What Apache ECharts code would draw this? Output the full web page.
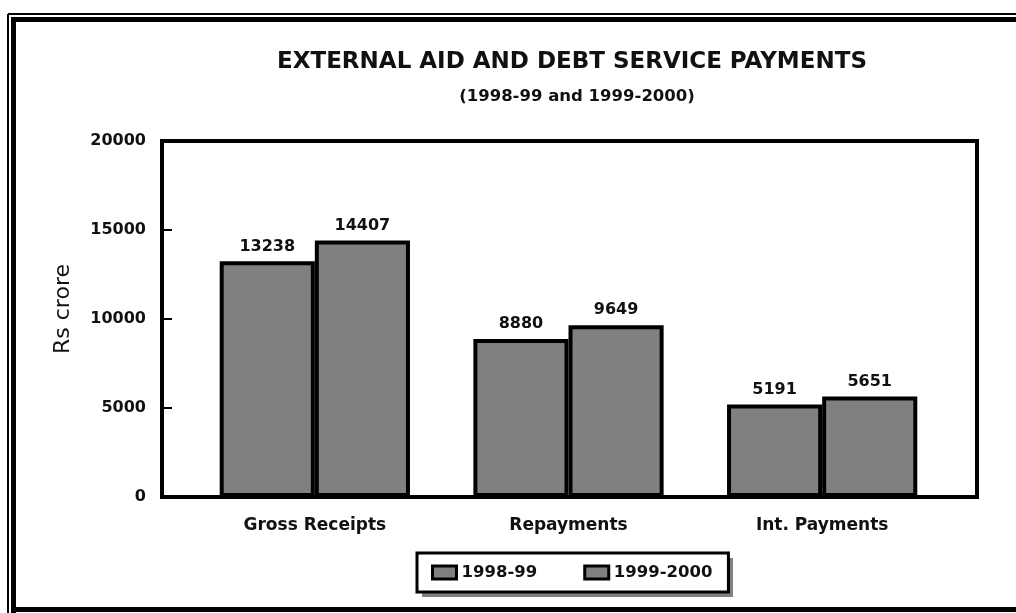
<!DOCTYPE html>
<html>
<head>
<meta charset="utf-8">
<script src="https://cdn.jsdelivr.net/npm/echarts@6/dist/echarts.min.js"></script>
<style>
html,body{margin:0;padding:0;background:#fff;}
#chart{width:1016px;height:613px;}
</style>
</head>
<body>
<div id="chart"></div>
<script>
var categories = ['Gross Receipts', 'Repayments', 'Int. Payments'];
var series1998 = [13238, 8880, 5191];
var series1999 = [14407, 9649, 5651];
var seriesNames = ['1998-99', '1999-2000'];
var titleText = 'EXTERNAL AID AND DEBT SERVICE PAYMENTS';
var subtitleText = '(1998-99 and 1999-2000)';
var yAxisName = 'Rs crore';
var yMin = 0, yMax = 20000, yStep = 5000;

var FONT = 'DejaVu Sans';
var chart = echarts.init(document.getElementById('chart'), null, {renderer: 'canvas'});

var barStyle = {color: '#808080', borderColor: '#000', borderWidth: 4};
var labelStyle = {show: true, position: 'top', distance: 7, color: '#111',
  fontFamily: FONT, fontWeight: 'bold', fontSize: 16};

var option = {
  backgroundColor: '#fff',
  animation: false,
  title: [{
    text: titleText, left: 567, top: 46, textAlign: 'center',
    textStyle: {fontFamily: FONT, fontWeight: 'bold', fontSize: 23, color: '#111'}
  }, {
    text: subtitleText, left: 572, top: 83, textAlign: 'center',
    textStyle: {fontFamily: FONT, fontWeight: 'bold', fontSize: 16.5, color: '#111'}
  }],
  legend: {
    data: seriesNames,
    left: 417, top: 553,
    orient: 'horizontal',
    padding: [11, 16, 11, 14],
    itemGap: 46,
    itemWidth: 24, itemHeight: 13,
    icon: 'rect',
    itemStyle: {borderColor: '#000', borderWidth: 3},
    backgroundColor: '#fff',
    borderColor: '#000', borderWidth: 3,
    z: 5,
    textStyle: {fontFamily: FONT, fontWeight: 'bold', fontSize: 16.5, color: '#111'}
  },
  grid: [
    {left: 162, right: 39, top: 141, bottom: 116, show: true, borderColor: '#000', borderWidth: 4, backgroundColor: 'transparent'},
    {left: 188, right: 67, top: 141, bottom: 116}
  ],
  xAxis: [
    {type: 'value', gridIndex: 0, min: 0, max: 1, show: false},
    {type: 'category', gridIndex: 1, data: categories,
      axisLine: {show: false}, axisTick: {show: false},
      axisLabel: {margin: 20, color: '#111', fontFamily: FONT, fontWeight: 'bold', fontSize: 17}}
  ],
  yAxis: [
    {type: 'value', gridIndex: 0, min: yMin, max: yMax, interval: yStep,
      axisLine: {show: true, lineStyle: {color: '#000', width: 4}},
      axisTick: {show: true, inside: true, length: 10, lineStyle: {color: '#000', width: 2}},
      splitLine: {show: false},
      axisLabel: {margin: 16, color: '#111', fontFamily: FONT, fontWeight: 'bold', fontSize: 16,
        formatter: function (v) { return String(v); }}},
    {type: 'value', gridIndex: 1, min: yMin, max: yMax, show: false}
  ],
  series: [
    {name: seriesNames[0], type: 'bar', xAxisIndex: 1, yAxisIndex: 1, data: series1998,
      barGap: '0%', barCategoryGap: '25%', itemStyle: barStyle, label: labelStyle},
    {name: seriesNames[1], type: 'bar', xAxisIndex: 1, yAxisIndex: 1, data: series1999,
      barGap: '0%', barCategoryGap: '25%', itemStyle: barStyle, label: labelStyle}
  ],
  graphic: [
    {type: 'text', x: 63, y: 309, rotation: Math.PI / 2, z: 10,
      style: {text: yAxisName, align: 'center', verticalAlign: 'middle', fill: '#111',
        font: '22px "DejaVu Sans"'}},
    {type: 'rect', z: 1, shape: {x: 422, y: 558, width: 311, height: 39}, style: {fill: '#808080'}},
    {type: 'line', shape: {x1: 8, y1: 14, x2: 1016, y2: 14}, style: {stroke: '#000', lineWidth: 2}},
    {type: 'line', shape: {x1: 8, y1: 14, x2: 8, y2: 613}, style: {stroke: '#000', lineWidth: 2}},
    {type: 'line', shape: {x1: 11, y1: 19.5, x2: 1016, y2: 19.5}, style: {stroke: '#000', lineWidth: 5}},
    {type: 'line', shape: {x1: 13.5, y1: 17, x2: 13.5, y2: 613}, style: {stroke: '#000', lineWidth: 5}},
    {type: 'line', shape: {x1: 11, y1: 609.5, x2: 1016, y2: 609.5}, style: {stroke: '#000', lineWidth: 5}}
  ]
};
chart.setOption(option);
</script>
</body>
</html>
